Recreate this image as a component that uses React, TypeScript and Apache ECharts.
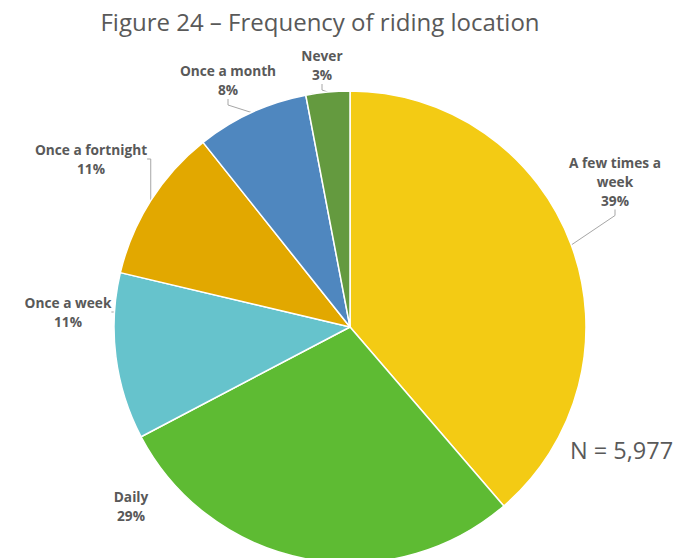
import React, { useEffect, useRef } from "react";
import * as echarts from "echarts";

const categories = [
  "A few times a\nweek",
  "Daily",
  "Once a week",
  "Once a fortnight",
  "Once a month",
  "Never",
];
const values = [38.7, 28.6, 11.4, 10.6, 7.7, 3.0];
const labelPercents = [39, 29, 11, 11, 8, 3];
const colors = ["#F3CB14", "#5EBB33", "#66C3CC", "#E2A800", "#4F87BF", "#649A3F"];
const labelCenters = [
  [615, 181],
  [131, 506],
  [68, 312],
  [91, 159],
  [228, 80],
  [322, 65],
];

export default function App() {
  const ref = useRef<HTMLDivElement>(null);
  useEffect(() => {
    document.body.style.margin = "0";
    const chart = echarts.init(ref.current!, null, { renderer: "svg" });
    chart.setOption({
      animation: false,
      backgroundColor: "#ffffff",
      title: {
        text: "Figure 24 – Frequency of riding location",
        left: 315,
        top: 4,
        textAlign: "center",
        textStyle: {
          fontFamily: "Open Sans",
          fontWeight: "normal",
          fontSize: 24,
          color: "#595959",
        },
      },
      graphic: [
        {
          type: "text",
          left: 570,
          top: 438,
          style: {
            text: "N = 5,977",
            font: "23.5px 'Open Sans'",
            fill: "#595959",
          },
        },
      ],
      series: [
        {
          type: "pie",
          center: [350, 327],
          radius: 236,
          startAngle: 90,
          clockwise: true,
          avoidLabelOverlap: false,
          itemStyle: { borderColor: "#ffffff", borderWidth: 1.5 },
          label: {
            show: true,
            position: "outside",
            fontFamily: "Open Sans",
            fontWeight: "bold",
            fontSize: 13.7,
            lineHeight: 19,
            color: "#595959",
            align: "center",
            formatter: (p: any) => `${p.name}\n${labelPercents[p.dataIndex]}%`,
          },
          labelLine: {
            show: true,
            length: 10,
            length2: 6,
            lineStyle: { color: "#A6A6A6", width: 1 },
          },
          labelLayout: (p: any) => {
            const c = labelCenters[p.dataIndex];
            return {
              x: c[0],
              y: c[1],
              align: "center",
              verticalAlign: "middle",
            };
          },
          data: categories.map((name, i) => ({
            name,
            value: values[i],
            itemStyle: { color: colors[i] },
            labelLine: { show: name !== "Daily" },
          })),
        },
      ],
    });
    return () => chart.dispose();
  }, []);
  return <div ref={ref} style={{ width: 695, height: 558 }} />;
}
